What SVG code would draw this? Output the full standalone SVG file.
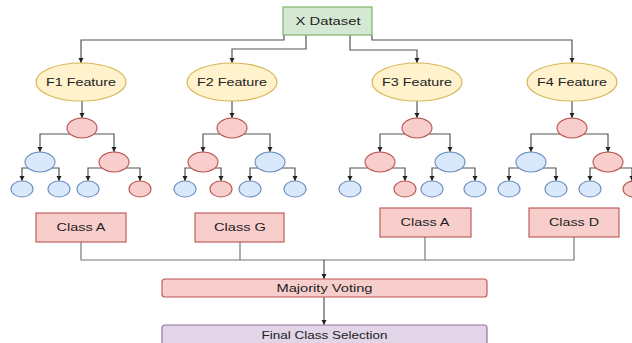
<svg xmlns="http://www.w3.org/2000/svg" width="632" height="343" viewBox="0 0 632 343">
<defs>
<style>
.t{font-family:"Liberation Sans",Arial,sans-serif;font-size:11.5px;fill:#222;text-anchor:middle}
.g{fill:#d5e8d4;stroke:#82b366;stroke-width:1.2}
.y{fill:#fff2cc;stroke:#d6b656;stroke-width:1.2}
.r{fill:#f8cecc;stroke:#b85450;stroke-width:1.1}
.b{fill:#dae8fc;stroke:#6c8ebf;stroke-width:1.1}
.p{fill:#e1d5e7;stroke:#9673a6;stroke-width:1.2}
.c{fill:none;stroke:#555;stroke-width:1.2}
.c2{fill:none;stroke:#777;stroke-width:1.2}
</style>
<marker id="ah" markerWidth="6" markerHeight="6" refX="5" refY="3" orient="auto" markerUnits="userSpaceOnUse">
<path d="M0,0.5 L5,3 L0,5.5 z" fill="#222"/>
</marker>
</defs>
<rect width="632" height="343" fill="#fff"/>

<g id="connectors">
<path class="c" marker-end="url(#ah)" d="M284,35 V40 H81 V63"/>
<path class="c" marker-end="url(#ah)" d="M306,35 V49 H232 V63"/>
<path class="c" marker-end="url(#ah)" d="M350,35 V50 H417 V63"/>
<path class="c" marker-end="url(#ah)" d="M372,35 V40 H572 V63"/>
<path class="c" marker-end="url(#ah)" d="M82,101 V118"/>
<path class="c" marker-end="url(#ah)" d="M232,101 V118"/>
<path class="c" marker-end="url(#ah)" d="M417,101 V118"/>
<path class="c" marker-end="url(#ah)" d="M572,101 V118"/>
<!-- tree 1 -->
<path class="c" marker-end="url(#ah)" d="M70,134 H40 V152"/>
<path class="c" marker-end="url(#ah)" d="M94,134 H114 V152"/>
<path class="c" marker-end="url(#ah)" d="M28,168 H22 V181"/>
<path class="c" marker-end="url(#ah)" d="M52,168 H59 V181"/>
<path class="c" marker-end="url(#ah)" d="M102,168 H88 V181"/>
<path class="c" marker-end="url(#ah)" d="M126,168 H140 V181"/>
<!-- tree 2 -->
<path class="c" marker-end="url(#ah)" d="M220,134 H203 V152"/>
<path class="c" marker-end="url(#ah)" d="M244,134 H270 V152"/>
<path class="c" marker-end="url(#ah)" d="M191,168 H185 V181"/>
<path class="c" marker-end="url(#ah)" d="M215,168 H221 V181"/>
<path class="c" marker-end="url(#ah)" d="M258,168 H250 V181"/>
<path class="c" marker-end="url(#ah)" d="M282,168 H295 V181"/>
<!-- tree 3 -->
<path class="c" marker-end="url(#ah)" d="M405,134 H380 V152"/>
<path class="c" marker-end="url(#ah)" d="M429,134 H450 V152"/>
<path class="c" marker-end="url(#ah)" d="M368,168 H350 V181"/>
<path class="c" marker-end="url(#ah)" d="M392,168 H405 V181"/>
<path class="c" marker-end="url(#ah)" d="M438,168 H432 V181"/>
<path class="c" marker-end="url(#ah)" d="M462,168 H475 V181"/>
<!-- tree 4 -->
<path class="c" marker-end="url(#ah)" d="M560,134 H531 V152"/>
<path class="c" marker-end="url(#ah)" d="M584,134 H608 V152"/>
<path class="c" marker-end="url(#ah)" d="M519,168 H509 V181"/>
<path class="c" marker-end="url(#ah)" d="M543,168 H556 V181"/>
<path class="c" marker-end="url(#ah)" d="M596,168 H590 V181"/>
<path class="c" marker-end="url(#ah)" d="M620,168 H632 V181"/>
<!-- bottom -->
<path class="c2" d="M81,242 V260 H574 V237"/>
<path class="c2" d="M240,242 V260"/>
<path class="c2" d="M425,237 V260"/>
<path class="c" marker-end="url(#ah)" d="M324,260 V279"/>
<path class="c" marker-end="url(#ah)" d="M324,297 V325"/>
</g>

<g id="dataset"><rect class="g" x="283" y="7" width="89" height="28"/><text class="t" x="328" y="25" textLength="65" lengthAdjust="spacingAndGlyphs">X Dataset</text></g>

<g id="f1"><ellipse class="y" cx="81" cy="82" rx="45" ry="19"/><text class="t" x="81" y="86" textLength="70" lengthAdjust="spacingAndGlyphs">F1 Feature</text></g>
<g id="f2"><ellipse class="y" cx="232" cy="82" rx="45" ry="19"/><text class="t" x="232" y="86" textLength="70" lengthAdjust="spacingAndGlyphs">F2 Feature</text></g>
<g id="f3"><ellipse class="y" cx="417" cy="82" rx="45" ry="19"/><text class="t" x="417" y="86" textLength="70" lengthAdjust="spacingAndGlyphs">F3 Feature</text></g>
<g id="f4"><ellipse class="y" cx="572" cy="82" rx="45" ry="19"/><text class="t" x="572" y="86" textLength="70" lengthAdjust="spacingAndGlyphs">F4 Feature</text></g>

<g id="tree1">
<ellipse class="r" cx="82" cy="128" rx="15" ry="10"/>
<ellipse class="b" cx="40" cy="162" rx="15" ry="10"/>
<ellipse class="r" cx="114" cy="162" rx="15" ry="10"/>
<ellipse class="b" cx="22" cy="189" rx="11" ry="8"/>
<ellipse class="b" cx="59" cy="189" rx="11" ry="8"/>
<ellipse class="b" cx="88" cy="189" rx="11" ry="8"/>
<ellipse class="r" cx="140" cy="189" rx="11" ry="8"/>
</g>
<g id="tree2">
<ellipse class="r" cx="232" cy="128" rx="15" ry="10"/>
<ellipse class="r" cx="203" cy="162" rx="15" ry="10"/>
<ellipse class="b" cx="270" cy="162" rx="15" ry="10"/>
<ellipse class="b" cx="185" cy="189" rx="11" ry="8"/>
<ellipse class="r" cx="221" cy="189" rx="11" ry="8"/>
<ellipse class="b" cx="250" cy="189" rx="11" ry="8"/>
<ellipse class="b" cx="295" cy="189" rx="11" ry="8"/>
</g>
<g id="tree3">
<ellipse class="r" cx="417" cy="128" rx="15" ry="10"/>
<ellipse class="r" cx="380" cy="162" rx="15" ry="10"/>
<ellipse class="b" cx="450" cy="162" rx="15" ry="10"/>
<ellipse class="b" cx="350" cy="189" rx="11" ry="8"/>
<ellipse class="r" cx="405" cy="189" rx="11" ry="8"/>
<ellipse class="b" cx="432" cy="189" rx="11" ry="8"/>
<ellipse class="b" cx="475" cy="189" rx="11" ry="8"/>
</g>
<g id="tree4">
<ellipse class="r" cx="572" cy="128" rx="15" ry="10"/>
<ellipse class="b" cx="531" cy="162" rx="15" ry="10"/>
<ellipse class="r" cx="608" cy="162" rx="15" ry="10"/>
<ellipse class="b" cx="509" cy="189" rx="11" ry="8"/>
<ellipse class="b" cx="556" cy="189" rx="11" ry="8"/>
<ellipse class="b" cx="590" cy="189" rx="11" ry="8"/>
<ellipse class="r" cx="634" cy="189" rx="11" ry="8"/>
</g>

<g id="classA1"><rect class="r" x="36" y="213" width="90" height="29"/><text class="t" x="81" y="231" textLength="49" lengthAdjust="spacingAndGlyphs">Class A</text></g>
<g id="classG"><rect class="r" x="195" y="213" width="89" height="29"/><text class="t" x="240" y="231" textLength="52" lengthAdjust="spacingAndGlyphs">Class G</text></g>
<g id="classA2"><rect class="r" x="380" y="208" width="91" height="29"/><text class="t" x="425" y="226" textLength="49" lengthAdjust="spacingAndGlyphs">Class A</text></g>
<g id="classD"><rect class="r" x="529" y="208" width="90" height="29"/><text class="t" x="574" y="226" textLength="50" lengthAdjust="spacingAndGlyphs">Class D</text></g>

<g id="voting"><rect class="r" x="162" y="279" width="325" height="18" rx="3"/><text class="t" x="324.5" y="292" textLength="96" lengthAdjust="spacingAndGlyphs">Majority Voting</text></g>
<g id="final"><rect class="p" x="162" y="325" width="325" height="28" rx="3"/><text class="t" x="324.5" y="339" textLength="126" lengthAdjust="spacingAndGlyphs">Final Class Selection</text></g>
</svg>
